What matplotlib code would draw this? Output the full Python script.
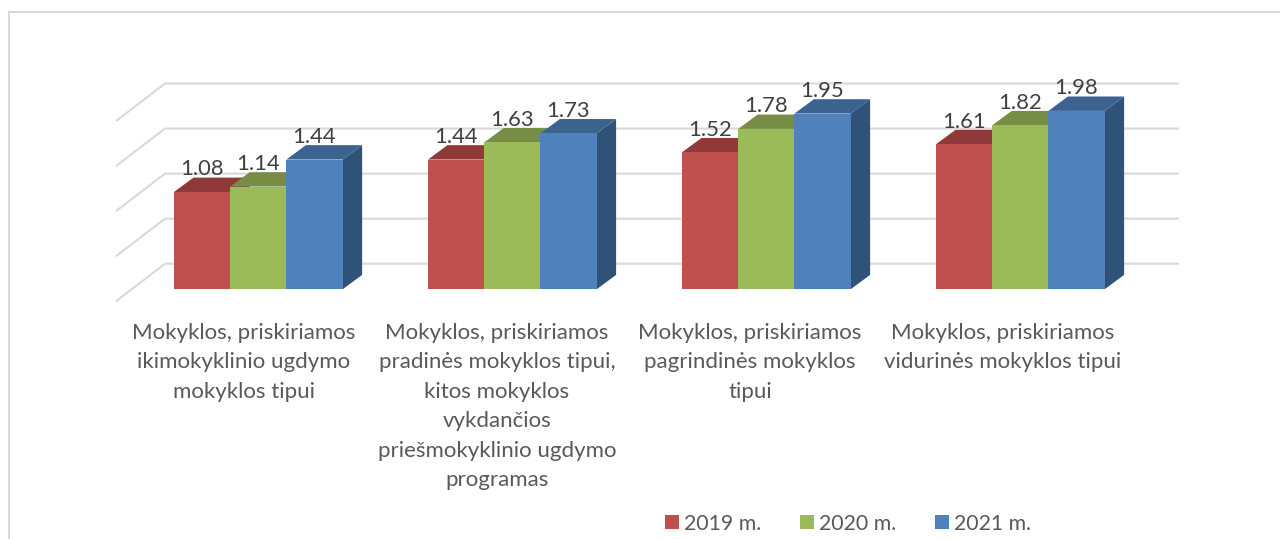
import numpy as np
import matplotlib
matplotlib.use("Agg")
import matplotlib.pyplot as plt
from matplotlib.patches import Polygon, Rectangle
from matplotlib.lines import Line2D

categories = [
    "Mokyklos, priskiriamos\nikimokyklinio ugdymo\nmokyklos tipui",
    "Mokyklos, priskiriamos\npradinės mokyklos tipui,\nkitos mokyklos\nvykdančios\npriešmokyklinio ugdymo\nprogramas",
    "Mokyklos, priskiriamos\npagrindinės mokyklos\ntipui",
    "Mokyklos, priskiriamos\nvidurinės mokyklos tipui",
]
series_names = ["2019 m.", "2020 m.", "2021 m."]
values_2019 = [1.08, 1.44, 1.52, 1.61]
values_2020 = [1.14, 1.63, 1.78, 1.82]
values_2021 = [1.44, 1.73, 1.95, 1.98]
gridlines = [0, 0.5, 1.0, 1.5, 2.0]
front_colors = ["#C0504D", "#9BBB59", "#4F81BD"]
top_colors = ["#8F3A38", "#778D45", "#3C6290"]
side_colors = ["#8A3735", "#6F8440", "#2F5279"]

W, H = 1280, 539
DPI = 100
fig = plt.figure(figsize=(W / DPI, H / DPI), dpi=DPI, facecolor="white")
plt.rcParams["font.family"] = ["Lato", "DejaVu Sans"]

# one category = 254 px, one value unit = 90.1 px
PX = 254.0
PY = 90.1
left = 258.3 - 0.5 * PX
base = 289.3
ax = fig.add_axes([left / W, 1 - base / H, 4 * PX / W, 2.5 * PY / H])
ax.set_xlim(-0.5, 3.5)
ax.set_ylim(0, 2.5)
ax.patch.set_alpha(0)
for s in ax.spines.values():
    s.set_visible(False)
ax.set_yticks([])

bar_w = 56.2 / PX
dx, dy = 19.5 / PX, 14.4 / PY

# walls: gridlines run back from the front-left corner, then along the back
gx0, gx1, gx2 = (116.7 - 258.3) / PX, (165 - 258.3) / PX, (1178 - 258.3) / PX
gy0, gy1 = (base - 300.7) / PY, (base - 263.7) / PY
for g in gridlines:
    ax.plot([gx0, gx1, gx2], [g + gy0, g + gy1, g + gy1], color="#D9D9D9", lw=1.5,
            clip_on=False, zorder=1, solid_joinstyle="miter")

x = np.arange(len(categories))
all_values = [values_2019, values_2020, values_2021]
z = 2
for i in range(len(categories)):
    for j, vals in enumerate(all_values):
        xc = x[i] + (j - 1) * bar_w
        v = vals[i]
        x0, x1 = xc - bar_w / 2, xc + bar_w / 2
        ax.add_patch(Polygon([(x1, 0), (x1 + dx, dy), (x1 + dx, v + dy), (x1, v)],
                             fc=side_colors[j], ec="none", zorder=z))
        ax.add_patch(Polygon([(x0, v), (x0 + dx, v + dy), (x1 + dx, v + dy), (x1, v)],
                             fc=top_colors[j], ec="none", zorder=z))
        ax.bar(xc, v, width=bar_w, color=front_colors[j], zorder=z + 0.5)
        z += 1
        ax.annotate(f"{v:.2f}", (xc, v), xytext=(0, 11.9), textcoords="offset points",
                    ha="center", va="baseline", fontsize=15.8, color="#404040", zorder=50)

# category labels sit left of the bar centres because of the 3D floor
ax.set_xticks(x * 253 / 254 - 14.3 / PX)
ax.set_xticklabels(categories, fontsize=16.0, color="#595959", linespacing=1.59)
ax.tick_params(axis="x", length=0, pad=24.2)

handles = [Rectangle((0, 0), 1, 1, fc=c, ec="none") for c in front_colors]
fig.legend(handles, series_names, loc="center", bbox_to_anchor=(848 / W, 1 - 523.5 / H),
           ncols=3, frameon=False, fontsize=15.3, labelcolor="#595959",
           handlelength=0.66, handleheight=0.66, handletextpad=0.2, columnspacing=1.86,
           borderpad=0, borderaxespad=0)

# chart frame: left and top edges only are visible in the crop
fig.add_artist(Line2D([9 / W, 9 / W, 1.0],
                      [0, 1 - 12 / H, 1 - 12 / H],
                      transform=fig.transFigure, color="#D9D9D9", lw=1.5,
                      solid_joinstyle="miter"))

fig.savefig("out.png", dpi=DPI)
